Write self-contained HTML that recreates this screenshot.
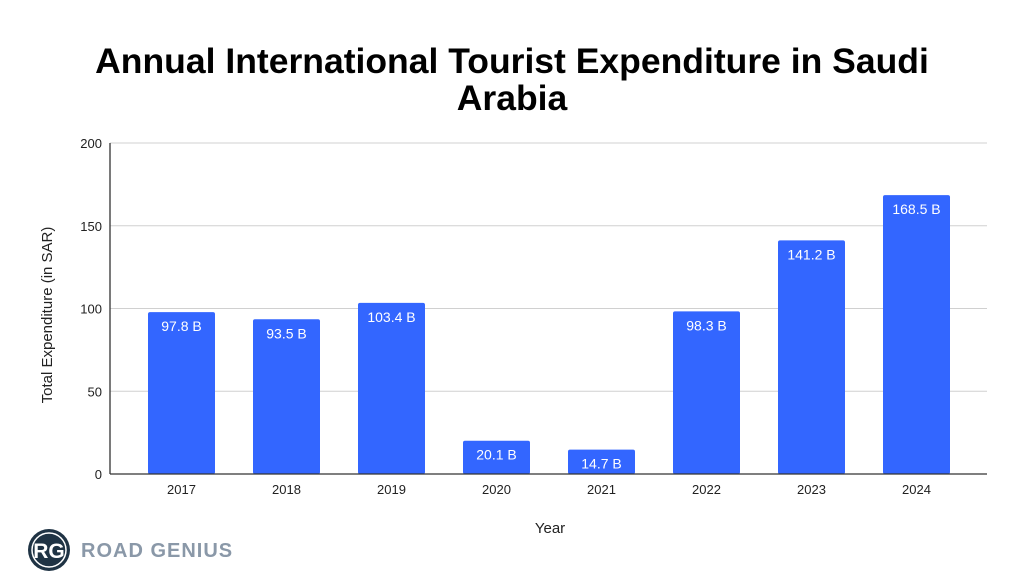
<!DOCTYPE html>
<html><head><meta charset="utf-8"><style>
body{margin:0;background:#fff;width:1024px;height:582px;overflow:hidden;font-family:"Liberation Sans",sans-serif}
</style></head><body>
<svg width="1024" height="582" xmlns="http://www.w3.org/2000/svg">
<text x="512" y="73" text-anchor="middle" font-size="35.5" font-weight="bold" fill="#000">Annual International Tourist Expenditure in Saudi</text>
<text x="512" y="110" text-anchor="middle" font-size="35.5" font-weight="bold" fill="#000">Arabia</text>
<g id="grid"></g>
<g id="bars"></g>
<line x1="110" y1="143" x2="110" y2="474" stroke="#333" stroke-width="1.3"/>
<line x1="110" y1="474" x2="987" y2="474" stroke="#333" stroke-width="1.3"/>
<text x="550" y="533" text-anchor="middle" font-size="15" fill="#222">Year</text>
<text transform="translate(52,315) rotate(-90)" text-anchor="middle" font-size="15" fill="#222">Total Expenditure (in SAR)</text>
<g>
<circle cx="49" cy="550" r="21" fill="#1f3344"/>
<circle cx="49" cy="550" r="17" fill="none" stroke="#fff" stroke-width="1.5"/>
<text x="49" y="558" text-anchor="middle" font-size="21" font-weight="bold" fill="#fff">RG</text>
<text x="81" y="557" font-size="20" font-weight="bold" fill="#8a98a8" letter-spacing="1">ROAD GENIUS</text>
</g>
</svg>
<script>
const categories=["2017","2018","2019","2020","2021","2022","2023","2024"];
const values=[97.8,93.5,103.4,20.1,14.7,98.3,141.2,168.5];
const valueLabels=["97.8 B","93.5 B","103.4 B","20.1 B","14.7 B","98.3 B","141.2 B","168.5 B"];
const yTicks=[0,50,100,150,200];
const NS="http://www.w3.org/2000/svg";
const y=v=>474-v*(331/200);
const x=i=>181.5+i*105;
const grid=document.getElementById('grid'),bars=document.getElementById('bars');
function mk(tag,at,p){const e=document.createElementNS(NS,tag);for(const k in at)e.setAttribute(k,at[k]);p.appendChild(e);return e;}
yTicks.forEach(t=>{
 const l=mk('line',{x1:110,x2:987,y1:y(t),y2:y(t),stroke:'#d0d0d0','stroke-width':1},grid);
 
 
 const tx=mk('text',{x:102,y:y(t)+5,'text-anchor':'end','font-size':13,fill:'#222'},grid);
 tx.textContent=t;
 
 
});
categories.forEach((c,i)=>{
 const r=mk('rect',{x:x(i)-33.5,y:y(values[i]),width:67,height:474-y(values[i]),fill:'#3366ff',rx:2},bars);
 
 
 const lb=mk('text',{x:x(i),y:y(values[i])+19,'text-anchor':'middle','font-size':14,fill:'#fff'},bars);
 lb.textContent=valueLabels[i];
 
 
 const xt=mk('text',{x:x(i),y:494,'text-anchor':'middle','font-size':13,fill:'#222'},bars);
 xt.textContent=c;
 
 
});
</script>
</body></html>
